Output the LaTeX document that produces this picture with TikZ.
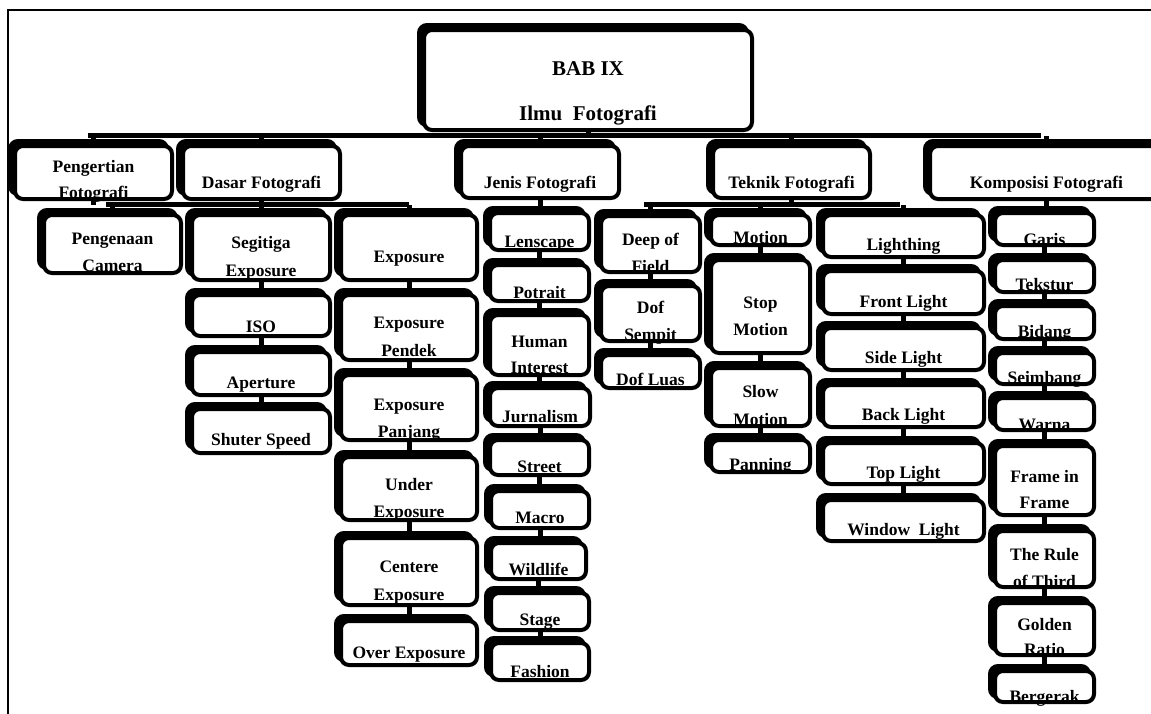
\documentclass[tikz,border=0pt]{standalone}
\usepackage{fontspec}
\setmainfont{Liberation Serif}
\pgfdeclarelayer{bg}
\pgfsetlayers{bg,main}
\tikzset{
 shadowbox/.style={draw=black, fill=black, line width=4pt, rounded corners=8pt, inner sep=0pt, outer sep=0pt},
 fillbox/.style={fill=white, rounded corners=8pt, inner sep=0pt, outer sep=0pt},
 borderbox/.style={draw=black, line width=4pt, rounded corners=8pt, inner sep=0pt, outer sep=0pt},
 lbl/.style={font=\fontsize{17.5}{20}\selectfont\bfseries, inner sep=0pt, anchor=base},
 ttl/.style={font=\fontsize{21}{24}\selectfont\bfseries, inner sep=0pt, anchor=base},
 conn/.style={line width=5pt, draw=black},
 frameline/.style={line width=1.2pt, draw=black},
}
\newcommand\bxsetup[5]{%
 \pgfmathsetmacro\bxcx{(#2+#4)/2}\pgfmathsetmacro\bxcy{(#3+#5)/2}%
 \pgfmathsetmacro\bxw{#4-#2-4}\pgfmathsetmacro\bxh{#5-#3-4}%
 \node[shadowbox, minimum width=\bxw, minimum height=\bxh] (#1s) at (\bxcx-5,\bxcy-5) {};
 \node[fillbox, minimum width=\bxw, minimum height=\bxh] (#1) at (\bxcx,\bxcy) {};
}
\newcommand\bxborder[1]{%
 \node[borderbox, minimum width=\bxw, minimum height=\bxh] (#1e) at (#1.center) {};
}
\newcommand\bxa[7]{%
 \bxsetup{#1}{#2}{#3}{#4}{#5}%
 \node[lbl] (#1t) at (\bxcx,#7) {#6};
 \bxborder{#1}%
}
\newcommand\bxb[9]{%
 \bxsetup{#1}{#2}{#3}{#4}{#5}%
 \node[lbl] (#1t) at (\bxcx,#7) {#6};
 \node[lbl] (#1u) at (\bxcx,#9) {#8};
 \bxborder{#1}%
}
\begin{document}
\begin{tikzpicture}[x=1pt,y=-1pt]
\useasboundingbox (0,0) rectangle (1151,713);
\clip (0,0) rectangle (1151,713);
\draw[frameline] (8,720) -- (8,10) -- (1160,10);

% title
\bxsetup{title}{422}{28}{754}{132}
\node[ttl] (titlet) at (\bxcx,75) {BAB IX};
\node[ttl] (titleu) at (\bxcx,120) {Ilmu\ \ Fotografi};
\bxborder{title}

% level 1
\bxb{peng}{13}{144}{174}{201}{Pengertian}{172}{Fotografi}{198}
\bxa{dasar}{181}{144}{342}{201}{Dasar Fotografi}{188}
\bxa{jenis}{459}{144}{621}{200}{Jenis Fotografi}{188}
\bxa{teknik}{711}{144}{872}{200}{Teknik Fotografi}{188}
\bxa{komp}{928}{144}{1165}{201}{Komposisi Fotografi}{188}

% Pengertian
\bxb{cam}{42}{213}{183}{275}{Pengenaan}{244}{Camera}{271}

% Dasar
\bxb{seg}{190}{213}{332}{282}{Segitiga}{248}{Exposure}{276}
\bxa{iso}{190}{293}{332}{338}{ISO}{332}
\bxa{ape}{190}{350}{332}{397}{Aperture}{388}
\bxa{shu}{190}{407}{332}{455}{Shuter Speed}{445}
\bxa{exp}{339}{213}{479}{282}{Exposure}{262}
\bxb{expd}{339}{293}{479}{362}{Exposure}{328}{Pendek}{356}
\bxb{expp}{339}{373}{479}{442}{Exposure}{410}{Panjang}{437}
\bxb{under}{339}{455}{479}{522}{Under}{490}{Exposure}{517}
\bxb{cent}{339}{536}{479}{607}{Centere}{572}{Exposure}{600}
\bxa{over}{339}{619}{479}{667}{Over Exposure}{658}

% Jenis
\bxa{lens}{488}{211}{591}{252}{Lenscape}{247}
\bxa{potr}{488}{263}{591}{303}{Potrait}{298}
\bxb{human}{488}{313}{591}{377}{Human}{347}{Interest}{373}
\bxa{jurn}{488}{386}{592}{428}{Jurnalism}{422}
\bxa{street}{488}{438}{591}{477}{Street}{472}
\bxa{macro}{489}{489}{591}{530}{Macro}{523}
\bxa{wild}{489}{541}{588}{581}{Wildlife}{575}
\bxa{stage}{489}{591}{591}{632}{Stage}{625}
\bxa{fash}{489}{641}{591}{682}{Fashion}{677}

% Teknik
\bxb{dof}{599}{214}{702}{274}{Deep of}{245}{Field}{272}
\bxb{dofs}{599}{284}{702}{343}{Dof}{313}{Sempit}{340}
\bxa{dofl}{599}{353}{702}{390}{Dof Luas}{385}
\bxa{mot}{709}{213}{812}{247}{Motion}{243}
\bxb{stop}{709}{258}{812}{355}{Stop}{308}{Motion}{335}
\bxb{slow}{709}{366}{812}{428}{Slow}{397}{Motion}{425}
\bxa{pan}{709}{438}{812}{474}{Panning}{470}
\bxa{light}{821}{213}{986}{259}{Lighthing}{250}
\bxa{front}{821}{269}{986}{316}{Front Light}{307}
\bxa{side}{821}{326}{986}{372}{Side Light}{363}
\bxa{back}{821}{383}{986}{429}{Back Light}{420}
\bxa{topl}{821}{441}{986}{486}{Top Light}{478}
\bxa{window}{821}{498}{986}{543}{Window\ \ Light}{535}

% Komposisi
\bxa{garis}{993}{211}{1096}{247}{Garis}{245}
\bxa{teks}{993}{258}{1096}{294}{Tekstur}{290}
\bxa{bid}{993}{304}{1096}{341}{Bidang}{337}
\bxa{seim}{993}{351}{1096}{386}{Seimbang}{383}
\bxa{warna}{993}{396}{1096}{432}{Warna}{430}
\bxb{fram}{993}{444}{1096}{517}{Frame in}{482}{Frame}{508}
\bxb{rule}{993}{529}{1096}{589}{The Rule}{560}{of Third}{587}
\bxb{gold}{993}{601}{1096}{657}{Golden}{630}{Ratio}{655}
\bxa{berg}{993}{669}{1096}{704}{Bergerak}{702}

\begin{pgfonlayer}{bg}
\fill[white] (0,0) rectangle (1151,713);
\coordinate (b1) at (0,135.5);
\coordinate (b2) at (0,204.5);
\draw[conn] (title.south) -- (title.south |- b1);
\draw[conn] ([xshift=-6pt]peng.north |- b1) -- ([xshift=-6pt]komp.north |- b1);
\foreach \n in {peng,dasar,jenis,teknik,komp}
  \draw[conn] (\n.north) -- (\n.north |- b1);
\draw[conn] (peng.south) -- (peng.south |- b2);
\draw[conn] (dasar.south) -- (dasar.south |- b2);
\draw[conn] ([xshift=-7pt]cam.north |- b2) -- (exp.north |- b2);
\draw[conn] (jenis.south) -- (jenis.south |- lens.north);
\draw[conn] (teknik.south) -- (teknik.south |- b2);
\draw[conn] ([xshift=-7pt]dof.north |- b2) -- ([xshift=-4pt]light.north |- b2);
\draw[conn] (komp.south) -- (komp.south |- garis.north);
\foreach \n in {cam,seg,exp,dof,mot,light}
  \draw[conn] (\n.north) -- (\n.north |- b2);
\foreach \a/\b in {seg/iso,iso/ape,ape/shu,exp/expd,expd/expp,expp/under,under/cent,cent/over,
  lens/potr,potr/human,human/jurn,jurn/street,street/macro,macro/wild,wild/stage,stage/fash,
  dof/dofs,dofs/dofl,mot/stop,stop/slow,slow/pan,light/front,front/side,side/back,back/topl,topl/window,
  garis/teks,teks/bid,bid/seim,seim/warna,warna/fram,fram/rule,rule/gold,gold/berg}
  \draw[conn] (\a.south) -- (\a.south |- \b.north);
\end{pgfonlayer}
\end{tikzpicture}
\end{document}
